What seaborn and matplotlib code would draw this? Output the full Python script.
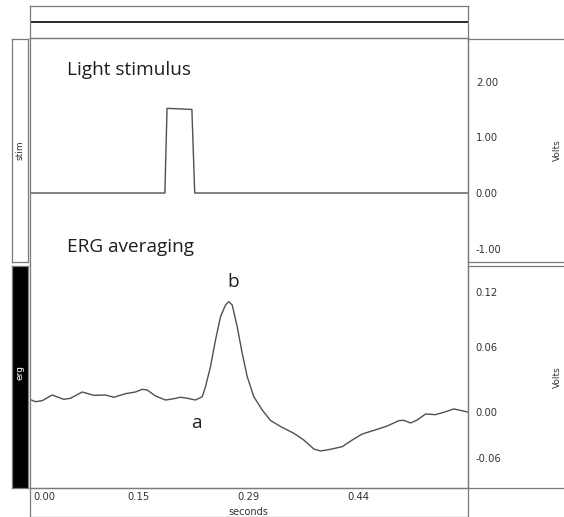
import numpy as np
import pandas as pd
import matplotlib
matplotlib.use("Agg")
import matplotlib.pyplot as plt
import matplotlib.transforms as mtransforms
import seaborn as sns

# ---------------- data ----------------
stim_t = [0.0, 0.1805, 0.1834, 0.2165, 0.2203, 0.584]
stim_v = [0.0, 0.0, 1.52, 1.50, 0.0, 0.0]

erg_t = [0.0, 0.008, 0.0169, 0.0303, 0.0457, 0.0547, 0.0703, 0.0857, 0.1013,
         0.1124, 0.128, 0.1413, 0.1503, 0.1569, 0.168, 0.1813, 0.1924, 0.2013,
         0.2103, 0.2213, 0.2303, 0.2347, 0.2413, 0.248, 0.2547, 0.2613, 0.2657,
         0.2703, 0.2769, 0.2836, 0.2903, 0.2991, 0.3103, 0.3213, 0.3347, 0.3524,
         0.3657, 0.3791, 0.388, 0.4013, 0.4169, 0.4303, 0.4436, 0.4636, 0.4769,
         0.4924, 0.4991, 0.508, 0.5169, 0.528, 0.5413, 0.5524, 0.5657, 0.5769, 0.584]
erg_v = [0.0036, 0.0010, 0.0021, 0.0082, 0.0036, 0.0047, 0.0115, 0.0079, 0.0082,
         0.0058, 0.0097, 0.0115, 0.0144, 0.0137, 0.0072, 0.0028, 0.0042, 0.0058,
         0.0047, 0.0028, 0.0064, 0.0173, 0.0390, 0.0679, 0.0932, 0.1059, 0.1095,
         0.1059, 0.0824, 0.0535, 0.0281, 0.0064, -0.0080, -0.0194, -0.0259, -0.0333,
         -0.0406, -0.0503, -0.0525, -0.0507, -0.0478, -0.0406, -0.0341, -0.0290, -0.0254,
         -0.0196, -0.0192, -0.0221, -0.0189, -0.0124, -0.0131, -0.0105, -0.0069, -0.0088, -0.0102]

x_ticks = [0.0, 0.146, 0.292, 0.438]
x_tick_labels = ["0.00", "0.15", "0.29", "0.44"]
stim_ticks = [2.0, 1.0, 0.0, -1.0]
stim_tick_labels = ["2.00", "1.00", "0.00", "-1.00"]
erg_ticks = [0.12, 0.06, 0.0, -0.06]
erg_tick_labels = ["0.12", "0.06", "0.00", "-0.06"]
channel_names = ["stim", "erg"]
channel_titles = ["Light stimulus", "ERG averaging"]
wave_names = ["a", "b"]
wave_t = [0.2227, 0.2713]
wave_v = [-0.0276, 0.1254]
x_label = "seconds"
y_label = "Volts"

stim_df = pd.DataFrame({"t": stim_t, "v": stim_v})
erg_df = pd.DataFrame({"t": erg_t, "v": erg_v})

# ---------------- figure ----------------
sns.set_theme(style="white")
plt.rcParams["font.family"] = ["DejaVu Sans"]

W, H = 564, 517
fig = plt.figure(figsize=(W / 100, H / 100), dpi=100)
fig.patch.set_facecolor("white")


def box(x0, y0, x1, y1):
    return [x0 / W, 1 - y1 / H, (x1 - x0) / W, (y1 - y0) / H]


FRAME = "#7a7a7a"
LW = 0.9
TXT = "#333333"
TRACE = "#505050"
TITLE_FONT = ["Open Sans", "DejaVu Sans"]


def frame_axes(rect, fc="white"):
    a = fig.add_axes(rect)
    a.set_facecolor(fc)
    a.set_xticks([])
    a.set_yticks([])
    for s in a.spines.values():
        s.set_color(FRAME)
        s.set_linewidth(LW)
        s.set_visible(True)
    return a


# top strip
ax_strip = frame_axes(box(29.5, 6, 467.5, 38))
ax_strip.axhline(0.5, color="#2a2a2a", lw=1.4)

# channel name strips
ax_sn = frame_axes(box(12, 39, 27.5, 262))
ax_sn.text(0.5, 0.5, channel_names[0], rotation=90, ha="center", va="center",
           fontsize=6.5, color=TXT, transform=ax_sn.transAxes)
ax_en = frame_axes(box(12, 266, 27.5, 488), fc="black")
ax_en.text(0.5, 0.52, channel_names[1], rotation=90, ha="center", va="center",
           fontsize=6.5, color="white", transform=ax_en.transAxes)

# x-axis box
ax_xb = frame_axes(box(29.5, 488, 467.5, 516.5), fc="none")

# right-hand scale boxes
YS_TOP = 55.7          # px per volt, stim
Y0_TOP = 193.0         # px of 0 V, stim
YS_BOT = 1 / 0.001085  # px per volt, erg
Y0_BOT = 402.6         # px of 0 V, erg

rax_top = frame_axes(box(467.5, 38.5, 570, 262))
rax_top.set_ylim((Y0_TOP - 262) / YS_TOP, (Y0_TOP - 38.5) / YS_TOP)
rax_bot = frame_axes(box(467.5, 266, 570, 488))
rax_bot.set_ylim((Y0_BOT - 488) / YS_BOT, (Y0_BOT - 266) / YS_BOT)
for rax, ticks, labels, yc in ((rax_top, stim_ticks, stim_tick_labels, 150),
                               (rax_bot, erg_ticks, erg_tick_labels, 377)):
    rax.set_yticks(ticks)
    rax.set_yticklabels(labels)
    rax.tick_params(axis="y", length=0, pad=-6.0, labelsize=7.2, labelcolor=TXT)
    for lbl in rax.get_yticklabels():
        lbl.set_horizontalalignment("left")
    fig.text(557 / W, 1 - yc / H, y_label, rotation=90, ha="center", va="center",
             fontsize=6.5, color=TXT)
# nudge the erg "0.00" label as in the original
lbl0 = rax_bot.get_yticklabels()[2]
lbl0.set_transform(lbl0.get_transform() +
                   mtransforms.ScaledTranslation(0, -9 / 100, fig.dpi_scale_trans))

# data axes
XMAX = 0.584
ax_top = fig.add_axes(box(29.5, 38, 467.5, 264))
ax_bot = fig.add_axes(box(29.5, 264, 467.5, 488))
ax_top.set_ylim((Y0_TOP - 264) / YS_TOP, (Y0_TOP - 38) / YS_TOP)
ax_bot.set_ylim((Y0_BOT - 488) / YS_BOT, (Y0_BOT - 264) / YS_BOT)
for a in (ax_top, ax_bot):
    a.set_facecolor("none")
    a.set_xlim(0, XMAX)
    for s in a.spines.values():
        s.set_color(FRAME)
        s.set_linewidth(LW)
        s.set_visible(True)
ax_top.spines["bottom"].set_visible(False)
ax_bot.spines["top"].set_visible(False)

sns.lineplot(data=stim_df, x="t", y="v", ax=ax_top, color=TRACE, lw=1.0,
             estimator=None, sort=False)
sns.lineplot(data=erg_df, x="t", y="v", ax=ax_bot, color=TRACE, lw=1.0,
             estimator=None, sort=False)

ax_top.set_yticks([])
ax_top.set_xticks([])
ax_top.set_xlabel("")
ax_top.set_ylabel("")
ax_bot.set_yticks([])
ax_bot.set_ylabel("")
ax_bot.set_xticks(x_ticks)
ax_bot.set_xticklabels(x_tick_labels)
ax_bot.tick_params(axis="x", length=0, pad=3.2, labelsize=7.2, labelcolor=TXT)
xl0 = ax_bot.get_xticklabels()[0]
xl0.set_horizontalalignment("left")
xl0.set_transform(xl0.get_transform() +
                  mtransforms.ScaledTranslation(4 / 100, 0, fig.dpi_scale_trans))
ax_bot.set_xlabel(x_label, fontsize=7, color=TXT)
ax_bot.xaxis.set_label_coords(0.5, -0.083)

# titles and wave labels
ax_top.text(0.05, (Y0_TOP - 75) / YS_TOP, channel_titles[0], ha="left", va="baseline",
            fontsize=13.7, color="#1e1e1e", family=TITLE_FONT)
ax_top.text(0.05, (Y0_TOP - 252) / YS_TOP, channel_titles[1], ha="left", va="baseline",
            fontsize=13.7, color="#1e1e1e", family=TITLE_FONT)
for name, t, v in zip(wave_names, wave_t, wave_v):
    ax_bot.text(t, v, name, ha="center", va="baseline", fontsize=13.7,
                color="#1e1e1e", family=TITLE_FONT)

fig.savefig("out.png", dpi=100, facecolor="white")
